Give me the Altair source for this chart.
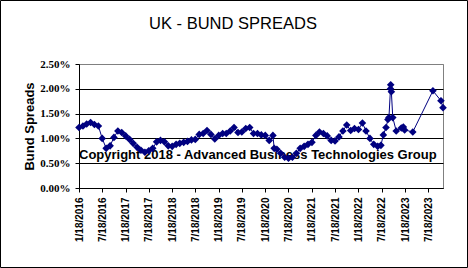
import altair as alt
import pandas as pd

# ---------------- data ----------------
dates = [
    "2016-01-18", "2016-02-18", "2016-03-18", "2016-04-18", "2016-05-18", "2016-06-18",
    "2016-07-18", "2016-08-18", "2016-09-18", "2016-10-18", "2016-11-18", "2016-12-18",
    "2017-01-18", "2017-02-18", "2017-03-18", "2017-04-18", "2017-05-18", "2017-06-18",
    "2017-07-18", "2017-08-18", "2017-09-18", "2017-10-18", "2017-11-18", "2017-12-18",
    "2018-01-18", "2018-02-18", "2018-03-18", "2018-04-18", "2018-05-18", "2018-06-18",
    "2018-07-18", "2018-08-18", "2018-09-18", "2018-10-18", "2018-11-18", "2018-12-18",
    "2019-01-18", "2019-02-18", "2019-03-18", "2019-04-18", "2019-05-18", "2019-06-18",
    "2019-07-18", "2019-08-18", "2019-09-18", "2019-10-18", "2019-11-18", "2019-12-18",
    "2020-01-18", "2020-02-18", "2020-03-18", "2020-03-28", "2020-04-18", "2020-05-18",
    "2020-06-18", "2020-07-18", "2020-08-18", "2020-09-18", "2020-10-18", "2020-11-18",
    "2020-12-18", "2021-01-18", "2021-02-18", "2021-03-18", "2021-04-18", "2021-05-18",
    "2021-06-18", "2021-07-18", "2021-08-18", "2021-09-18", "2021-10-18", "2021-11-18",
    "2021-12-18", "2022-01-18", "2022-02-18", "2022-03-18", "2022-04-18", "2022-05-18",
    "2022-06-18", "2022-07-13", "2022-08-01", "2022-08-22", "2022-09-06", "2022-09-14",
    "2022-09-26", "2022-09-28", "2022-10-03", "2022-10-14", "2022-11-10", "2022-12-20",
    "2023-01-05", "2023-01-15", "2023-03-20", "2023-08-25", "2023-10-27", "2023-11-12",
]
spreads = [
    1.22, 1.25, 1.29, 1.32, 1.28, 1.25,
    1.00, 0.80, 0.85, 1.02, 1.15, 1.12,
    1.05, 0.98, 0.90, 0.82, 0.76, 0.72,
    0.75, 0.80, 0.93, 0.96, 0.93, 0.85,
    0.84, 0.88, 0.90, 0.92, 0.94, 0.97,
    0.98, 1.08, 1.10, 1.16, 1.08, 0.99,
    1.06, 1.10, 1.10, 1.15, 1.22, 1.12,
    1.13, 1.20, 1.22, 1.10, 1.10, 1.07,
    1.06, 0.96, 1.06, 0.80, 0.78, 0.70,
    0.62, 0.60, 0.62, 0.70, 0.80, 0.84,
    0.88, 0.92, 1.06, 1.13, 1.10, 1.05,
    0.96, 0.95, 1.03, 1.15, 1.27, 1.16,
    1.20, 1.18, 1.31, 1.15, 1.00, 0.88,
    0.84, 0.86, 1.07, 1.22, 1.38, 1.42,
    2.00, 2.08, 1.94, 1.42, 1.15, 1.21,
    1.23, 1.17, 1.13, 1.96, 1.76, 1.62,
]
y_ticks = [0.0, 0.5, 1.0, 1.5, 2.0, 2.5]
x_tick_dates = [
    "2016-01-18", "2016-07-18", "2017-01-18", "2017-07-18", "2018-01-18", "2018-07-18",
    "2019-01-18", "2019-07-18", "2020-01-18", "2020-07-18", "2021-01-18", "2021-07-18",
    "2022-01-18", "2022-07-18", "2023-01-18", "2023-07-18",
]
x_domain = ["2016-01-18", "2023-11-12"]
title_text = "UK - BUND SPREADS"
y_title = "Bund Spreads"
copyright_text = "Copyright 2018 - Advanced Business Technologies Group"


def to_dt(s):
    return alt.DateTime(year=int(s[:4]), month=int(s[5:7]), date=int(s[8:10]), utc=True)


df = pd.DataFrame({"date": dates, "spread": spreads})

NAVY = "#000080"
W, H = 364, 124

x_scale = alt.Scale(type="utc", domain=[to_dt(d) for d in x_domain], nice=False)
y_scale = alt.Scale(domain=[0, 2.5], nice=False, zero=True)

x_enc = alt.X(
    "date:T",
    scale=x_scale,
    axis=alt.Axis(
        values=[to_dt(d) for d in x_tick_dates],
        labelExpr="utcFormat(datum.value, '%-m/%-d/%Y')",
        labelAngle=270,
        labelFont="Liberation Sans",
        labelFontWeight="bold",
        labelFontSize=10,
        labelColor="black",
        labelPadding=5,
        tickSize=4,
        tickColor="black",
        domainColor="black",
        grid=False,
        title=None,
        labelOverlap=False,
        labelBound=False,
        labelFlush=False,
    ),
)
y_enc = alt.Y(
    "spread:Q",
    scale=y_scale,
    axis=alt.Axis(
        values=y_ticks,
        labelExpr="format(datum.value, '.2f') + '%'",
        labelFont="Liberation Serif",
        labelFontWeight="bold",
        labelFontSize=11,
        labelColor="black",
        labelPadding=5,
        tickSize=4,
        tickColor="black",
        domainColor="black",
        grid=True,
        gridColor=alt.condition("datum.value >= 2.5", alt.value("#808080"), alt.value("black")),
        gridOpacity=1,
        gridWidth=1,
        title=y_title,
        titleFont="Liberation Sans",
        titleFontWeight="bold",
        titleFontSize=13,
        titleColor="black",
        titleAngle=270,
        titleAlign="center",
        titleBaseline="middle",
        titleX=-50,
        titleY=H / 2,
        labelOverlap=False,
    ),
)

base = alt.Chart(df).encode(x=x_enc, y=y_enc)
line = base.mark_line(color=NAVY, strokeWidth=1)
points = base.mark_point(shape="diamond", filled=True, color=NAVY, size=58, opacity=1)

copyright_layer = alt.Chart(pd.DataFrame({"t": [copyright_text]})).mark_text(
    font="Liberation Sans", fontWeight="bold", fontSize=13, color="black",
    align="left", baseline="alphabetic",
).encode(text="t:N", x=alt.value(0), y=alt.value(159 - 64))

title_layer = alt.Chart(pd.DataFrame({"t": [title_text]})).mark_text(
    font="Liberation Sans", fontSize=16.5, color="black", align="center", baseline="alphabetic",
).encode(text="t:N", x=alt.value(233 - 79), y=alt.value(29 - 64))

border = alt.Chart(pd.DataFrame({"b": [1]})).mark_rect(
    fillOpacity=0, stroke="black", strokeWidth=1
).encode(
    x=alt.value(-78.5), x2=alt.value(388.5), y=alt.value(-63.5), y2=alt.value(203.5)
)

chart = alt.layer(line, copyright_layer, points, title_layer, border).properties(
    width=W,
    height=H,
    autosize=alt.AutoSizeParams(type="none"),
    padding={"left": 79, "top": 64, "right": 468 - 79 - W, "bottom": 268 - 64 - H},
    background="white",
).configure_view(stroke="#808080", strokeWidth=1)

chart.save("out.html", embed_options={"renderer": "svg", "actions": False})
